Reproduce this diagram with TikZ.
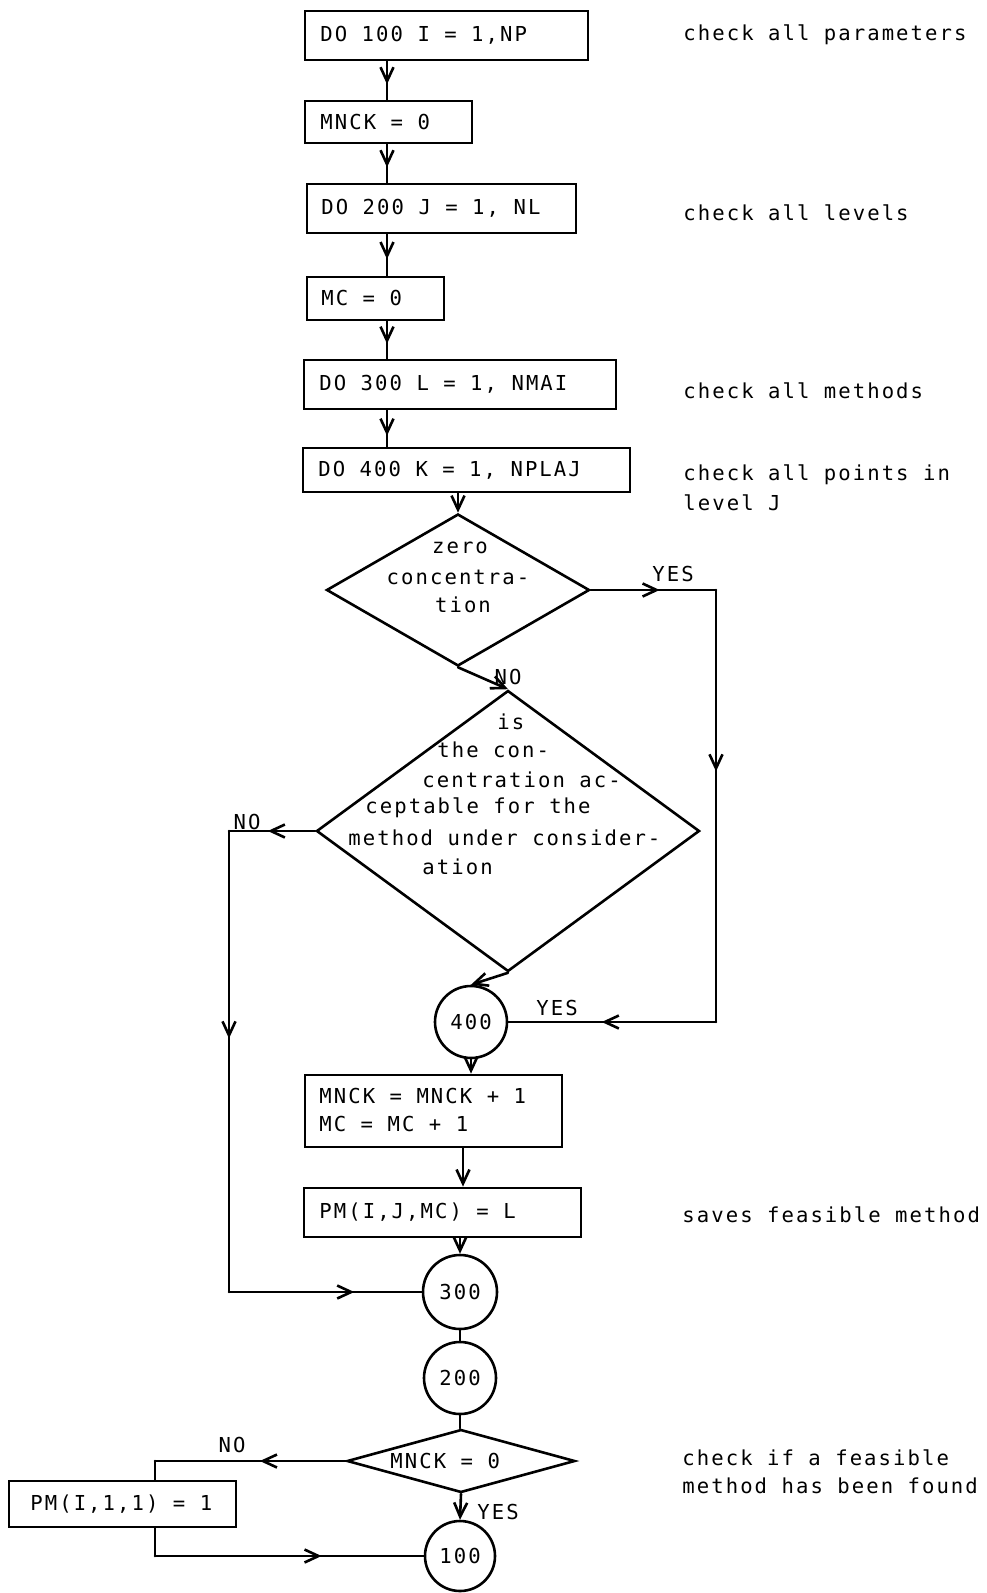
\documentclass[tikz,border=0pt]{standalone}
\usepackage{fontspec}
\newfontfamily\twfont[LetterSpace=10]{DejaVu Sans Mono}
\usetikzlibrary{arrows.meta,shapes.geometric,decorations.markings}
\tikzset{
  tip/.tip={Straight Barb[length=7pt,width=6.5pt,line width=1.3pt]},
  every node/.style={font=\twfont\fontsize{10.3}{14}\selectfont},
  line/.style={line width=1.3pt,line cap=round,line join=round},
  midarr/.style={line,postaction={decorate},decoration={markings,mark=at position #1 with {\arrow{tip}}}},
  endarr/.style={line,-{tip}},
  box/.style={draw,line width=1.4pt,rectangle,inner sep=0pt},
  dia/.style={draw,line width=1.3pt,diamond,inner sep=0pt},
  circ/.style={draw,line width=1.3pt,circle,inner sep=0pt},
  lbl/.style={inner sep=0pt,anchor=west},
}
\begin{document}
\begin{tikzpicture}[x=0.5pt,y=-0.5pt]
\useasboundingbox[fill=white] (0,0) rectangle (986,1593);
% boxes
\node[box,minimum width=141.5pt,minimum height=24.5pt] (b1) at (446.5,35.5) {};
\node[box,minimum width=83.5pt,minimum height=21pt] (b2) at (388.5,122) {};
\node[box,minimum width=134.5pt,minimum height=24.5pt] (b3) at (441.5,208.5) {};
\node[box,minimum width=68.5pt,minimum height=21.5pt] (b4) at (375.5,298.5) {};
\node[box,minimum width=156pt,minimum height=24.5pt] (b5) at (460,384.5) {};
\node[box,minimum width=163.5pt,minimum height=22pt] (b6) at (466.5,470) {};
\node[box,minimum width=128.5pt,minimum height=36pt] (b7) at (433.5,1111) {};
\node[box,minimum width=138.5pt,minimum height=24.5pt] (b8) at (442.5,1212.5) {};
\node[box,minimum width=113.5pt,minimum height=23pt] (b9) at (122.5,1504) {};
% box texts
\node[lbl] (t-b1) at (320,35.5) {DO 100 I = 1,NP};
\node[lbl] (t-b2) at (320,122) {MNCK = 0};
\node[lbl] (t-b3) at (321,208.5) {DO 200 J = 1, NL};
\node[lbl] (t-b4) at (321,298.5) {MC = 0};
\node[lbl] (t-b5) at (319,384.5) {DO 300 L = 1, NMAI};
\node[lbl] (t-b6) at (318,470) {DO 400 K = 1, NPLAJ};
\node[lbl] (t-b7a) at (319,1096) {MNCK = MNCK + 1};
\node[lbl] (t-b7b) at (319,1124) {MC = MC + 1};
\node[lbl] (t-b8) at (319,1212.5) {PM(I,J,MC) = L};
\node[lbl] (t-b9) at (30,1504) {PM(I,1,1) = 1};
% diamonds
\node[dia,minimum width=131.5pt,minimum height=76pt] (d1) at (458,590) {};
\node[dia,minimum width=191.5pt,minimum height=140.5pt] (d2) at (508,831) {};
\node[dia,minimum width=114pt,minimum height=31.5pt] (d3) at (461,1461) {};
% diamond texts
\node[inner sep=0pt] (t1a) at (460,548) {zero};
\node[inner sep=0pt] (t1b) at (458,577) {concentra-};
\node[inner sep=0pt] (t1c) at (463,605) {tion};
\node[lbl] (t2a) at (497,722) {is};
\node[lbl] (t2b) at (437,750) {the con-};
\node[lbl] (t2c) at (422,780) {centration ac-};
\node[lbl] (t2d) at (365,808) {ceptable for the};
\node[lbl] (t2e) at (348,838) {method under consider-};
\node[lbl] (t2f) at (422,867) {ation};
\node[lbl] (t3) at (390,1461) {MNCK = 0};
% circles
\node[circ,minimum size=36pt] (c400) at (471,1022) {400};
\node[circ,minimum size=37pt] (c300) at (460,1292) {300};
\node[circ,minimum size=36pt] (c200) at (460,1378) {200};
\node[circ,minimum size=35pt] (c100) at (460,1556) {100};
% comments
\node[lbl] (m1) at (683,35) {check all parameters};
\node[lbl] (m2) at (683,213) {check all levels};
\node[lbl] (m3) at (683,391) {check all methods};
\node[lbl] (m4) at (683,475) {check all points in};
\node[lbl] (m5) at (683,503) {level J};
\node[lbl] (m6) at (682,1215) {saves feasible method};
\node[lbl] (m7) at (682,1458) {check if a feasible};
\node[lbl] (m8) at (682,1486) {method has been found};
% labels
\node[inner sep=0pt] (y1) at (673,574) {YES};
\node[inner sep=0pt] (n1) at (508,677) {NO};
\node[inner sep=0pt] (n2) at (247,822) {NO};
\node[inner sep=0pt] (y2) at (557,1008) {YES};
\node[inner sep=0pt] (n3) at (232,1445) {NO};
\node[inner sep=0pt] (y3) at (498,1512) {YES};
% helper coordinates
\coordinate (colA) at (387,0);
\coordinate (colB) at (463,0);
\coordinate (r1) at (716,590);
\coordinate (r2) at (716,1022);
\coordinate (l1) at (229,831);
\coordinate (l2) at (229,1292);
\coordinate (q1) at (155,1461);
\coordinate (q2) at (155,1556);
% connectors
\draw[midarr=0.6] (b1.south -| colA) -- (b2.north -| colA);
\draw[midarr=0.6] (b2.south -| colA) -- (b3.north -| colA);
\draw[midarr=0.6] (b3.south -| colA) -- (b4.north -| colA);
\draw[midarr=0.6] (b4.south -| colA) -- (b5.north -| colA);
\draw[midarr=0.7] (b5.south -| colA) -- (b6.north -| colA);
\draw[endarr] (b6.south -| d1.north) -- (d1.north);
\draw[midarr=0.55] (d1.east) -- (r1);
\draw[midarr=0.42] (r1) -- (r2);
\draw[midarr=0.55] (r2) -- (c400.east);
\draw[endarr] (d1.south) -- (d2.north);
\draw[midarr=0.55] (d2.west) -- (l1);
\draw[midarr=0.45] (l1) -- (l2);
\draw[midarr=0.65] (l2) -- (c300.west);
\draw[endarr] (d2.south) -- (c400.north);
\draw[endarr] (c400.south) -- (c400.south |- b7.north);
\draw[endarr] (b7.south -| colB) -- (b8.north -| colB);
\draw[endarr] (b8.south -| c300.north) -- (c300.north);
\draw[line] (c300.south) -- (c200.north);
\draw[line] (c200.south) -- (c200.south |- d3.north);
\draw[midarr=0.45] (d3.west) -- (q1);
\draw[line] (q1) -- (b9.north -| q1);
\draw[line] (b9.south -| q1) -- (q2);
\draw[midarr=0.62] (q2) -- (c100.west);
\draw[endarr] (d3.south) -- (c100.north);
\end{tikzpicture}
\end{document}
